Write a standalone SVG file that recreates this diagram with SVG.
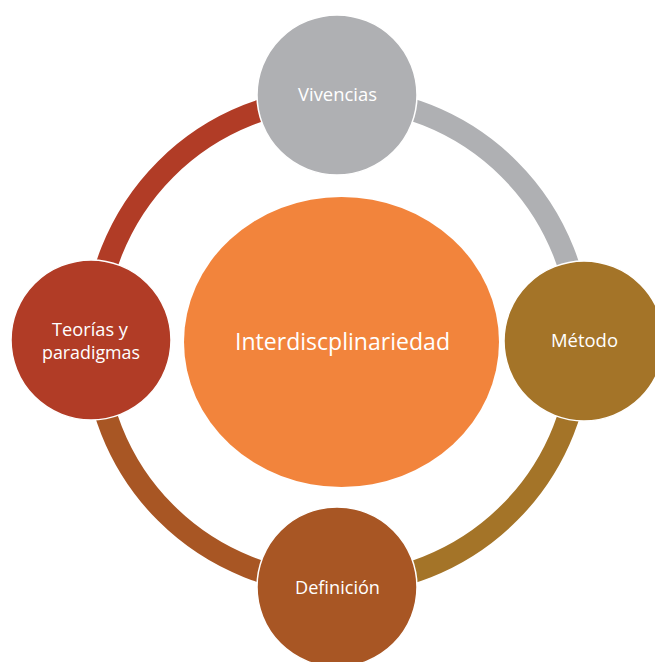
<svg xmlns="http://www.w3.org/2000/svg" width="655" height="662" viewBox="0 0 655 662">
<style>
.arc{fill:none;stroke-width:22;stroke-linecap:butt}
.node{stroke:#ffffff;stroke-width:1.5}
.lbl{font-family:"Open Sans","Noto Sans","Liberation Sans",sans-serif;fill:#ffffff;text-anchor:middle;font-size:18px}
</style>
<rect width="655" height="662" fill="#ffffff"/>
<g id="center">
<ellipse cx="341.5" cy="342" rx="157.5" ry="145" fill="#F2843C"/>
<text class="lbl" x="342.5" y="350" font-size="23" style="font-size:23px" textLength="215" lengthAdjust="spacingAndGlyphs">Interdiscplinariedad</text>
</g>
<g id="connectors">
<path class="arc" stroke="#AFB0B3" d="M 337.5 98 A 243 243 0 0 1 580.5 341"/>
<path class="arc" stroke="#A47428" d="M 580.5 341 A 243 243 0 0 1 337.5 584"/>
<path class="arc" stroke="#A85624" d="M 337.5 584 A 243 243 0 0 1 94.5 341"/>
<path class="arc" stroke="#B13C26" d="M 94.5 341 A 243 243 0 0 1 337.5 98"/>
</g>
<g id="vivencias">
<circle class="node" cx="337" cy="95" r="80" fill="#AFB0B3"/>
<text class="lbl" x="337.5" y="101" textLength="79" lengthAdjust="spacingAndGlyphs">Vivencias</text>
</g>
<g id="metodo">
<circle class="node" cx="584" cy="341" r="80" fill="#A47428"/>
<text class="lbl" x="584.5" y="347" textLength="67" lengthAdjust="spacingAndGlyphs">Método</text>
</g>
<g id="definicion">
<circle class="node" cx="337" cy="587" r="80" fill="#A85624"/>
<text class="lbl" x="337.5" y="594" textLength="85" lengthAdjust="spacingAndGlyphs">Definición</text>
</g>
<g id="teorias">
<circle class="node" cx="91" cy="340" r="80" fill="#B13C26"/>
<text class="lbl" x="90" y="336" textLength="76" lengthAdjust="spacingAndGlyphs">Teorías y</text>
<text class="lbl" x="91" y="359" textLength="98" lengthAdjust="spacingAndGlyphs">paradigmas</text>
</g>
</svg>
